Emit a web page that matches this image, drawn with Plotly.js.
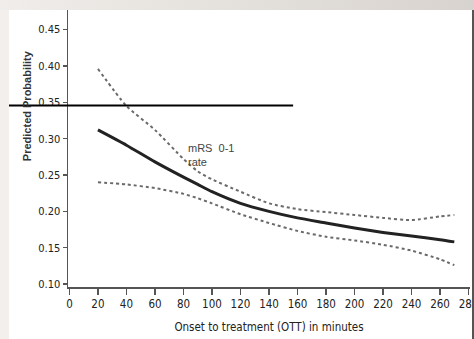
<!DOCTYPE html>
<html><head><meta charset="utf-8">
<script src="https://cdn.plot.ly/plotly-3.0.1.min.js"></script>
<style>
html,body{margin:0;padding:0;width:474px;height:339px;overflow:hidden;background:#f2efec;}
#top{position:absolute;left:0;top:0;width:474px;height:10px;background:linear-gradient(to right,#f0edea,#e4e0dc,#d8d3ce);}
#chart{position:absolute;left:9px;top:10px;width:463px;height:329px;background:#fff;overflow:hidden;}
#edge{position:absolute;left:472px;top:10px;width:2px;height:329px;background:#555;}
</style></head><body>
<div id="top"></div><div id="chart"></div><div id="edge"></div>
<script>
const ott = [20, 40, 60, 80, 90, 100, 120, 140, 160, 180, 200, 220, 240, 260, 270];
const predicted = [0.312, 0.291, 0.268, 0.247, 0.237, 0.227, 0.211, 0.200, 0.191, 0.184, 0.177, 0.171, 0.166, 0.161, 0.158];
const upperCI = [0.396, 0.345, 0.312, 0.272, 0.255, 0.244, 0.227, 0.211, 0.203, 0.199, 0.195, 0.191, 0.188, 0.193, 0.195];
const lowerCI = [0.240, 0.237, 0.232, 0.224, 0.218, 0.211, 0.196, 0.184, 0.173, 0.165, 0.160, 0.154, 0.146, 0.134, 0.126];
const xTicks = [0, 20, 40, 60, 80, 100, 120, 140, 160, 180, 200, 220, 240, 260, 280];
const yTicks = [0.10, 0.15, 0.20, 0.25, 0.30, 0.35, 0.40, 0.45];
const refLineValue = 0.3455;

const narrow = '"DejaVu Sans Condensed", "Liberation Sans Narrow", "Arial Narrow", sans-serif';
const traces = [
  {x: ott, y: upperCI, mode: 'lines', line: {color: '#6a6a6a', width: 2, dash: '3px,3px', shape: 'spline', smoothing: 0.6}, hoverinfo: 'skip'},
  {x: ott, y: lowerCI, mode: 'lines', line: {color: '#6a6a6a', width: 2, dash: '3px,3px', shape: 'spline', smoothing: 0.6}, hoverinfo: 'skip'},
  {x: ott, y: predicted, mode: 'lines', line: {color: '#222', width: 3, shape: 'spline', smoothing: 0.6}, hoverinfo: 'skip'}
];
const yr = [0.0959, 0.477];
const layout = {
  width: 463, height: 329,
  margin: {l: 59, r: 2, t: 0, b: 52},
  paper_bgcolor: '#fff', plot_bgcolor: '#fff',
  showlegend: false,
  xaxis: {range: [-1, 281], tickvals: xTicks, ticktext: xTicks.map(String),
    showgrid: false, zeroline: false, showline: true, linecolor: '#555', linewidth: 1.5,
    ticks: 'outside', ticklen: 6, tickwidth: 1.5, tickcolor: '#555', ticklabeloverflow: 'allow',
    tickfont: {family: narrow, size: 11.5, color: '#222'},
    title: {text: 'Onset to treatment (OTT) in minutes', font: {family: narrow, size: 11.5, color: '#222'}, standoff: 12}},
  yaxis: {range: yr, tickvals: yTicks, ticktext: yTicks.map(v => v.toFixed(2)),
    showgrid: false, zeroline: false, showline: true, linecolor: '#555', linewidth: 1.5,
    ticks: 'outside', ticklen: 4, tickwidth: 1.5, tickcolor: '#555',
    tickfont: {family: narrow, size: 11, color: '#222'}},
  shapes: [
    {type: 'line', xref: 'paper', yref: 'paper', x0: -0.149, x1: 0.56,
     y0: (refLineValue - yr[0]) / (yr[1] - yr[0]), y1: (refLineValue - yr[0]) / (yr[1] - yr[0]),
     line: {color: '#000', width: 2}}
  ],
  annotations: [
    {text: '<b>Predicted Probability</b>', textangle: -90, xref: 'paper', yref: 'paper',
     x: -0.103, y: 0.655, xanchor: 'center', yanchor: 'middle', showarrow: false,
     font: {family: 'Liberation Sans, Arial, sans-serif', size: 11, color: '#333'}},
    {text: 'mRS  0-1<br>rate', xref: 'x', yref: 'y', x: 82, y: 0.277, xanchor: 'left', yanchor: 'middle',
     align: 'left', showarrow: false, font: {family: 'Liberation Sans, Arial, sans-serif', size: 11, color: '#444'}}
  ]
};
Plotly.newPlot('chart', traces, layout, {displayModeBar: false, staticPlot: true});
</script></body></html>
